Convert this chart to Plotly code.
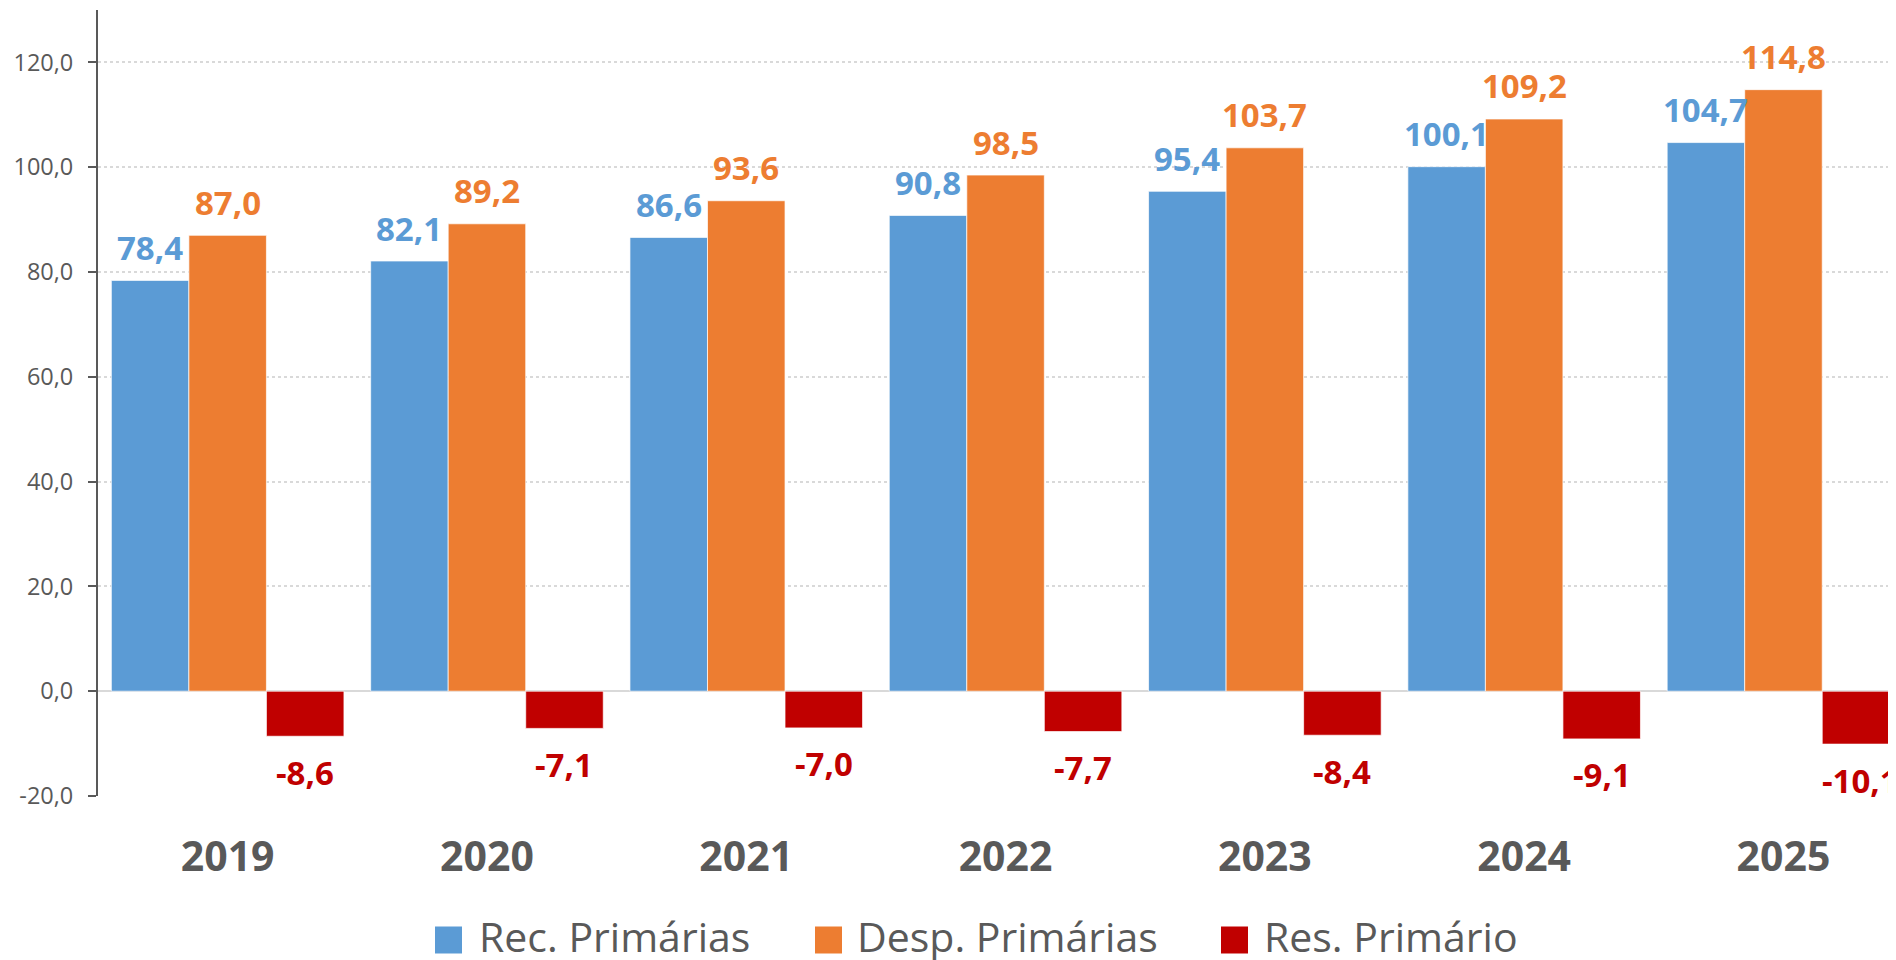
import plotly.graph_objects as go

# ---- data ----
years = ["2019", "2020", "2021", "2022", "2023", "2024", "2025"]
rec_primarias = [78.4, 82.1, 86.6, 90.8, 95.4, 100.1, 104.7]
desp_primarias = [87.0, 89.2, 93.6, 98.5, 103.7, 109.2, 114.8]
res_primario = [-8.6, -7.1, -7.0, -7.7, -8.4, -9.1, -10.1]
series_names = ["Rec. Primárias", "Desp. Primárias", "Res. Primário"]
y_tickvals = [-20, 0, 20, 40, 60, 80, 100, 120]
y_ticktext = ["-20,0", "0,0", "20,0", "40,0", "60,0", "80,0", "100,0", "120,0"]

# ---- style ----
BLUE = "#5B9BD5"
ORANGE = "#ED7D31"
RED = "#C00000"
GREY = "#595959"
LIGHT = "#D9D9D9"
FONT = "Open Sans"

PAGE_OFF = 8  # default body margin of the html page
W, H = 1896 - PAGE_OFF, 960 - PAGE_OFF
ML, MR, MT, MB = 98 - PAGE_OFF, 0, 10 - PAGE_OFF, 164
X_RANGE = [-0.5, 6.434]
Y_RANGE = [-20, 130]
BARGAP = 0.103

plot_w = W - ML - MR
plot_h = H - MT - MB
px_per_cat = plot_w / (X_RANGE[1] - X_RANGE[0])
bar_px = (1 - BARGAP) / 3 * px_per_cat


def fmt(v):
    return f"{v:.1f}".replace(".", ",")


fig = go.Figure()
series = [rec_primarias, desp_primarias, res_primario]
colors = [BLUE, ORANGE, RED]
for name, vals, col in zip(series_names, series, colors):
    fig.add_trace(go.Bar(
        x=years, y=vals, name=name, marker_color=col,
        marker_line=dict(width=1, color="rgba(255,255,255,0.7)"),
        showlegend=False, hoverinfo="x+y+name",
    ))

annotations = []
offsets = [-bar_px, 0, bar_px]
for vals, col, off in zip(series, colors, offsets):
    for i, v in enumerate(vals):
        annotations.append(dict(
            x=i, y=v, xref="x", yref="y", text=fmt(v), showarrow=False,
            xshift=off, yshift=(33 if v >= 0 else -36),
            xanchor="center", yanchor="middle",
            font=dict(family=FONT, size=33, color=col, weight="bold"),
        ))


# ---- manual legend (viewport pixel positions converted to paper coords) ----
def px_to_paper_x(px):
    return (px - PAGE_OFF - ML) / plot_w


def px_to_paper_y(py):
    return (H - MB - (py - PAGE_OFF)) / plot_h


legend_items = [(435, 477), (815, 855), (1221, 1262)]
shapes = []
sq = 27
cy = 940
for (sx, tx), name, col in zip(legend_items, series_names, colors):
    shapes.append(dict(
        type="rect", xref="paper", yref="paper",
        x0=px_to_paper_x(sx), x1=px_to_paper_x(sx + sq),
        y0=px_to_paper_y(cy + sq / 2), y1=px_to_paper_y(cy - sq / 2),
        fillcolor=col, line=dict(width=0),
    ))
    annotations.append(dict(
        x=px_to_paper_x(tx), y=px_to_paper_y(cy - 4), xref="paper", yref="paper",
        text=name, showarrow=False, xanchor="left", yanchor="middle",
        font=dict(family=FONT, size=41, color=GREY),
    ))

fig.update_layout(
    width=W, height=H,
    margin=dict(l=ML, r=MR, t=MT, b=MB, pad=0),
    plot_bgcolor="white", paper_bgcolor="white",
    barmode="group", bargap=BARGAP, bargroupgap=0,
    separators=",.",
    annotations=annotations, shapes=shapes,
    showlegend=False,
    font=dict(family=FONT, color=GREY),
)
fig.update_xaxes(
    type="category",
    range=X_RANGE, showgrid=False, showline=False, ticks="",
    tickfont=dict(family=FONT, size=41, color=GREY, weight="bold"),
    ticklabelstandoff=33, zeroline=False,
)
fig.update_yaxes(
    range=Y_RANGE, tickvals=y_tickvals, ticktext=y_ticktext,
    showgrid=True, gridcolor=LIGHT, griddash="dot", gridwidth=1.5,
    zeroline=True, zerolinecolor=LIGHT, zerolinewidth=2,
    showline=True, linecolor=GREY, linewidth=2,
    ticks="outside", ticklen=8, tickwidth=2, tickcolor=GREY,
    tickfont=dict(family=FONT, size=23.5, color=GREY),
    ticklabelstandoff=10,
)

fig.write_html("out.html")
